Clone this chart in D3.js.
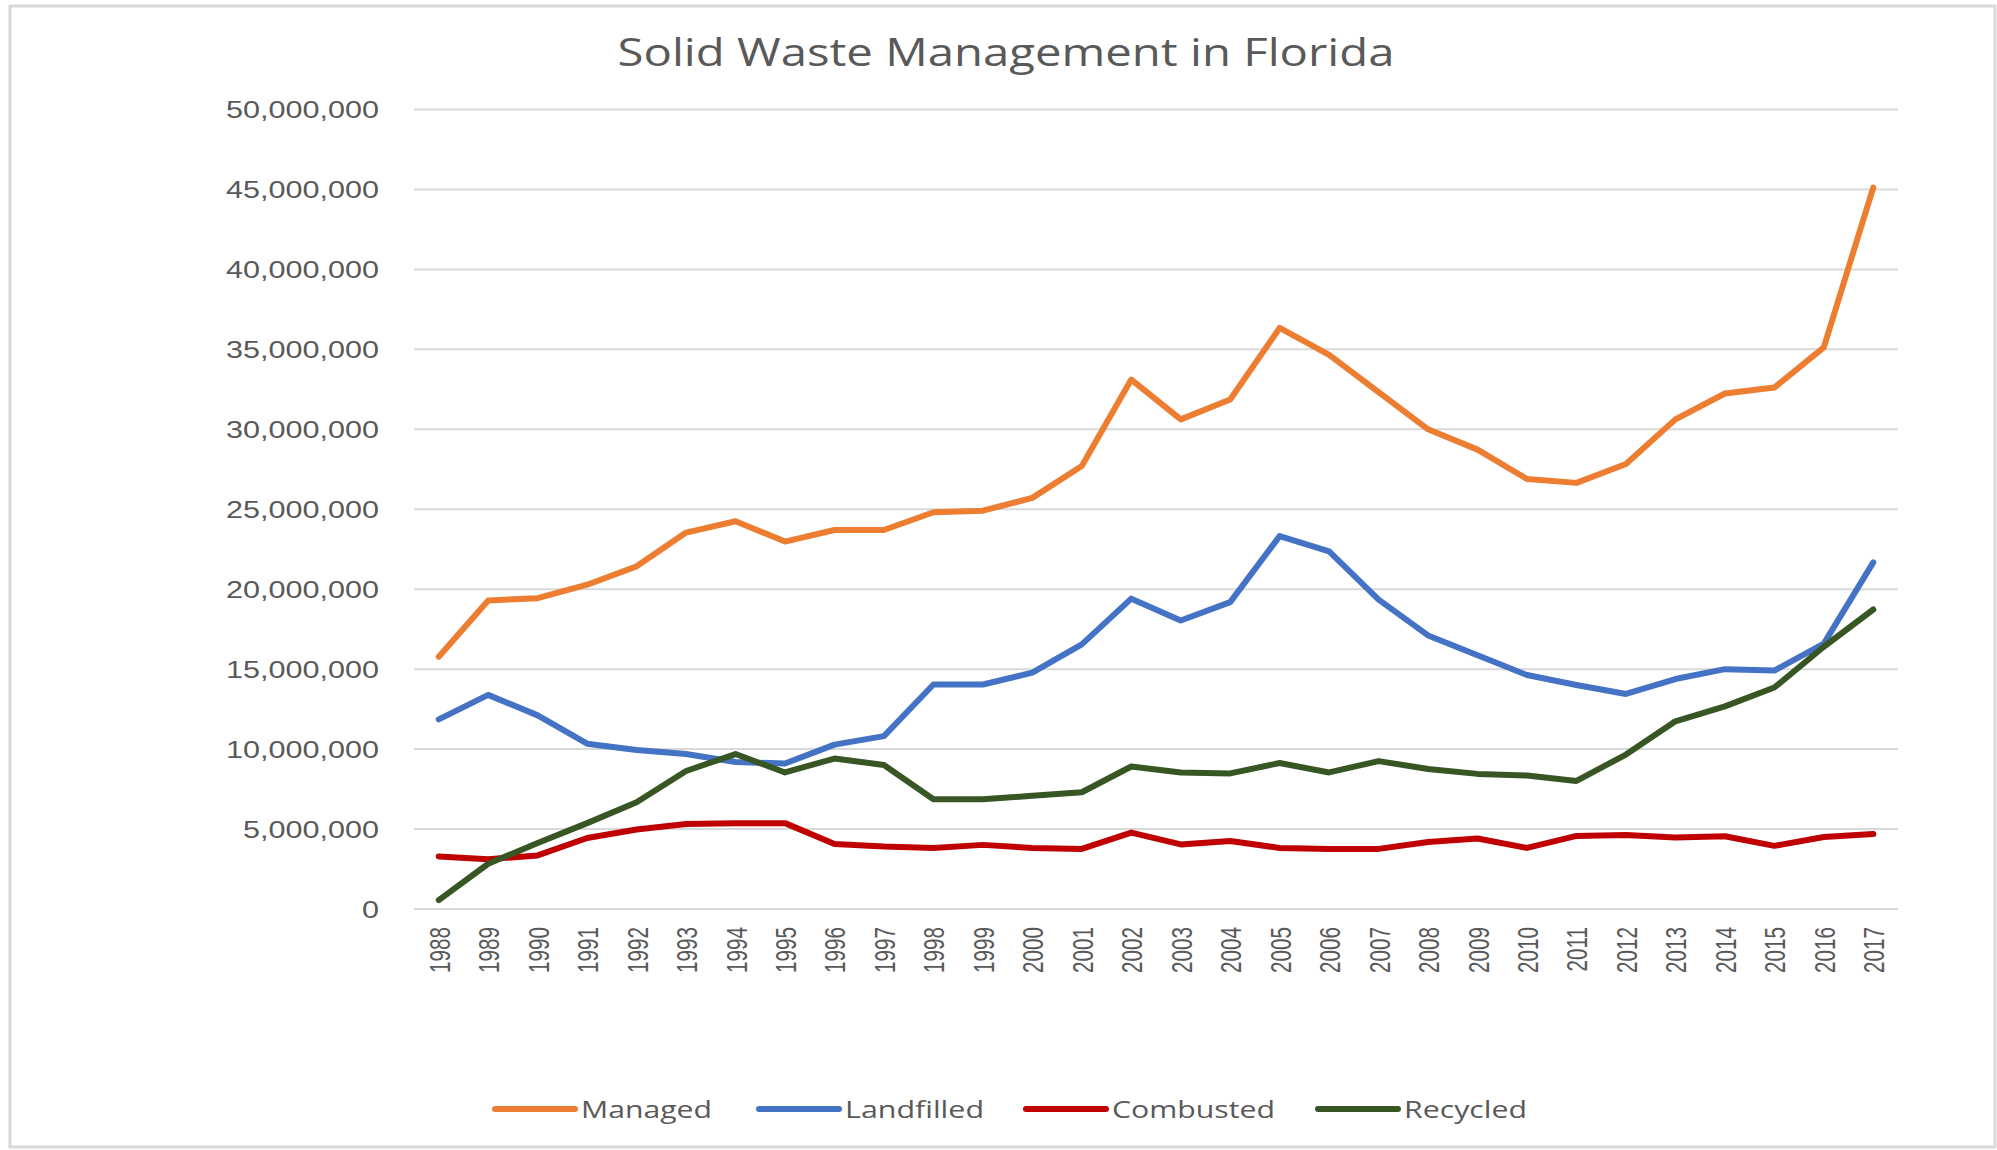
<!DOCTYPE html>
<html>
<head>
<meta charset="utf-8">
<script src="https://cdnjs.cloudflare.com/ajax/libs/d3/7.8.5/d3.min.js"></script>
<style>
  body { margin: 0; background: #fff; }
  svg { display: block; font-family: "Open Sans", sans-serif; }
  .grid line { stroke: #d9d9d9; stroke-width: 2; }
  .axis text { fill: #595959; }
</style>
</head>
<body>
<svg id="chart"></svg>
<script>
var years = [1988,1989,1990,1991,1992,1993,1994,1995,1996,1997,1998,1999,2000,2001,2002,
             2003,2004,2005,2006,2007,2008,2009,2010,2011,2012,2013,2014,2015,2016,2017];

var managed = [15780000,19290000,19440000,20280000,21430000,23540000,24250000,22980000,23700000,23700000,
               24810000,24910000,25710000,27700000,33110000,30620000,31860000,36340000,34660000,32330000,
               30000000,28730000,26890000,26650000,27830000,30620000,32240000,32610000,35120000,45120000];

var landfilled = [11860000,13390000,12110000,10340000,9940000,9690000,9190000,9100000,10280000,10810000,
                  14040000,14040000,14780000,16550000,19410000,18040000,19190000,23320000,22360000,19350000,
                  17110000,15870000,14630000,14010000,13450000,14380000,15000000,14910000,16600000,21680000];

var combusted = [3290000,3110000,3350000,4440000,4970000,5310000,5370000,5370000,4070000,3910000,
                 3820000,4010000,3820000,3760000,4780000,4040000,4250000,3820000,3760000,3760000,
                 4190000,4410000,3820000,4570000,4630000,4470000,4550000,3950000,4500000,4690000];

var recycled = [560000,2830000,4130000,5370000,6680000,8630000,9690000,8540000,9410000,9010000,
                6860000,6860000,7080000,7300000,8910000,8540000,8480000,9130000,8540000,9250000,
                8760000,8450000,8350000,8010000,9660000,11740000,12670000,13850000,16400000,18730000];

var seriesNames = ["Managed", "Landfilled", "Combusted", "Recycled"];
var seriesColors = ["#ED7D31", "#4472C4", "#C00000", "#375623"];
var yTicks = [0,5000000,10000000,15000000,20000000,25000000,30000000,35000000,40000000,45000000,50000000];

drawLineChart();

function drawLineChart()
{
  var width = 1997,
      height = 1150;
  var plot = { left: 414, right: 1898, top: 109.5, bottom: 909 };

  var series = [managed, landfilled, combusted, recycled];

  var svg = d3.select("#chart")
    .attr("width", width)
    .attr("height", height);

  //Chart frame
  svg.append("rect")
    .attr("x", 10)
    .attr("y", 6)
    .attr("width", 1985)
    .attr("height", 1141)
    .attr("fill", "#fff")
    .attr("stroke", "#d9d9d9")
    .attr("stroke-width", 3);

  var xscale = d3.scaleBand()
    .domain(years)
    .range([plot.left, plot.right]);

  var yscale = d3.scaleLinear()
    .domain([0, 50000000])
    .range([plot.bottom, plot.top]);

  //Gridlines
  svg.append("g")
    .attr("class", "grid")
    .selectAll("line")
    .data(yTicks)
    .enter()
    .append("line")
    .attr("x1", plot.left)
    .attr("x2", plot.right)
    .attr("y1", function(d){ return yscale(d); })
    .attr("y2", function(d){ return yscale(d); });

  //Y axis
  var yaxis = d3.axisLeft(yscale)
    .tickValues(yTicks)
    .tickSize(0)
    .tickPadding(0)
    .tickFormat(d3.format(","));

  var yg = svg.append("g")
    .attr("class", "axis")
    .attr("transform", "translate(379,0)")
    .call(yaxis);
  yg.select(".domain").remove();
  yg.selectAll("text")
    .attr("x", 0)
    .attr("dy", "0.35em")
    .style("font-size", "23px")
    .attr("transform", "scale(1.33,1)");

  //X axis
  var xaxis = d3.axisBottom(xscale)
    .tickSize(0)
    .tickPadding(0);

  var xg = svg.append("g")
    .attr("class", "axis")
    .attr("transform", "translate(0," + (plot.bottom + 18) + ")")
    .call(xaxis);
  xg.select(".domain").remove();
  xg.selectAll("text")
    .attr("y", 0)
    .attr("dy", 0)
    .attr("text-anchor", "end")
    .style("font-size", "30px")
    .attr("transform", "rotate(-90) translate(0,11) scale(0.69,1)");

  //Lines
  var line = d3.line()
    .x(function(d, i){ return xscale(years[i]) + xscale.bandwidth() / 2; })
    .y(function(d){ return yscale(d); });

  svg.append("g")
    .attr("class", "lines")
    .selectAll("path")
    .data(series)
    .enter()
    .append("path")
    .attr("d", line)
    .attr("fill", "none")
    .attr("stroke", function(d, i){ return seriesColors[i]; })
    .attr("stroke-width", 6)
    .attr("stroke-linejoin", "round")
    .attr("stroke-linecap", "round");

  //Title
  svg.append("text")
    .attr("x", 1006)
    .attr("y", 66)
    .attr("text-anchor", "middle")
    .attr("textLength", 777)
    .attr("lengthAdjust", "spacingAndGlyphs")
    .style("font-size", "38px")
    .style("fill", "#595959")
    .text("Solid Waste Management in Florida");

  //Legend
  var legendX = [495, 759, 1026, 1318];
  var legendW = [131, 139, 163, 123];
  var legend = svg.append("g")
    .attr("class", "legend")
    .selectAll("g")
    .data(seriesNames)
    .enter()
    .append("g")
    .attr("transform", function(d, i){ return "translate(" + legendX[i] + ",1109)"; });

  legend.append("line")
    .attr("x1", 0)
    .attr("x2", 80)
    .attr("stroke", function(d, i){ return seriesColors[i]; })
    .attr("stroke-width", 6)
    .attr("stroke-linecap", "round");

  legend.append("text")
    .attr("x", 86)
    .attr("y", 9)
    .attr("textLength", function(d, i){ return legendW[i]; })
    .attr("lengthAdjust", "spacingAndGlyphs")
    .style("font-size", "24px")
    .style("fill", "#595959")
    .text(function(d){ return d; });
}
</script>
</body>
</html>
